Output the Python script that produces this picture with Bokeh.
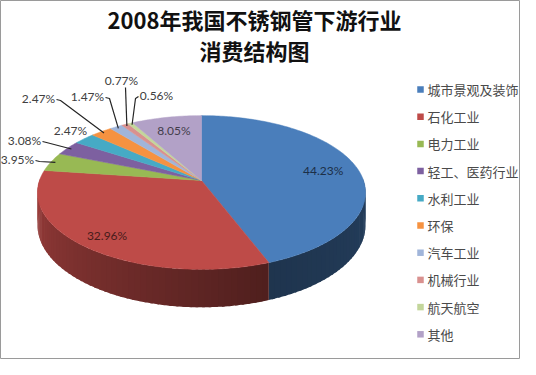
import math
from bokeh.plotting import figure
from bokeh.models import Range1d
from bokeh.core.properties import value
from bokeh.embed import file_html
from bokeh.resources import INLINE

# ---------------- data ----------------
title_lines = ["2008年我国不锈钢管下游行业", "消费结构图"]
categories = ["城市景观及装饰", "石化工业", "电力工业", "轻工、医药行业", "水利工业",
              "环保", "汽车工业", "机械行业", "航天航空", "其他"]
shares = [44.23, 32.96, 3.95, 3.08, 2.47, 2.47, 1.47, 0.77, 0.56, 8.05]
colors = ["#4A7EBB", "#BE4B48", "#98B954", "#7D60A0", "#46AAC5",
          "#F69240", "#A0B5DA", "#D9918F", "#C3D69B", "#B2A1C7"]

# ---------------- layout ----------------
CX, CY = 209.0, 188.0      # projected pie centre (page px)
A, B, K = 162.0, 75.0, 0.156
D0 = 32.0                  # side depth
FONT_CJK = "Noto Sans CJK SC"
FONT_NUM = "Lato"

# outside label anchors (page px) and leader side, for small slices (index -> layout)
outside = {2: (25, 167, "r"), 3: (32, 148, "r"), 4: (78, 138, None), 5: (46, 106, "r"),
           6: (95, 104, "r"), 7: (129, 88, "b"), 8: (164, 103, "l")}
inside_r = {0: 0.78, 1: 0.84, 9: 0.76}


def proj(theta, r=1.0, drop=0.0):
    t = math.radians(theta)
    X, Z = r * math.sin(t), -r * math.cos(t)
    m = 1.0 / (1.0 - K * Z)
    return CX + A * X * m, CY + B * Z * m + drop * m


def shade(hexc, f):
    r, g, b = (int(hexc[i:i + 2], 16) for i in (1, 3, 5))
    return "#%02x%02x%02x" % (int(r * f), int(g * f), int(b * f))


def side_factor(th):
    if th >= 160:
        return 0.42 + 0.40 * min(th - 160, 110) / 110
    return 0.42 + 0.08 * (160 - th) / 70


total = sum(shares)
bounds = [0.0]
for s in shares:
    bounds.append(bounds[-1] + 360.0 * s / total)

p = figure(width=520, height=359, x_range=Range1d(8, 528), y_range=Range1d(367, 8),
           output_backend="svg", toolbar_location=None, x_axis_type=None, y_axis_type=None,
           min_border=0, outline_line_color="#9a9a9a", outline_line_width=1,
           background_fill_color="white", border_fill_color="white")
p.min_border_left = p.min_border_right = p.min_border_top = p.min_border_bottom = 0
p.grid.visible = False

# ---- side walls (small overlapping strips for a shaded look) ----
sx, sy, sc = [], [], []
for i in range(len(shares)):
    a0, a1 = max(bounds[i], 88.0), min(bounds[i + 1], 272.0)
    if a1 <= a0:
        continue
    n = max(1, int(math.ceil((a1 - a0) / 2.0)))
    for j in range(n):
        t0 = a0 + (a1 - a0) * j / n
        t1 = min(a0 + (a1 - a0) * (j + 1) / n + 0.8, a1)
        ts = [t0 + (t1 - t0) * k / 3 for k in range(4)]
        top = [proj(t) for t in ts]
        bot = [proj(t, drop=D0) for t in reversed(ts)]
        sx.append([q[0] for q in top + bot])
        sy.append([q[1] for q in top + bot])
        sc.append(shade(colors[i], side_factor((t0 + t1) / 2)))
p.patches(sx, sy, fill_color=sc, line_color=None)

# ---- top faces ----
tx, ty = [], []
for i in range(len(shares)):
    a0, a1 = bounds[i], bounds[i + 1]
    n = max(2, int(math.ceil(a1 - a0)))
    pts = [(CX, CY)] + [proj(a0 + (a1 - a0) * j / n) for j in range(n + 1)]
    tx.append([q[0] for q in pts])
    ty.append([q[1] for q in pts])
p.patches(tx, ty, fill_color=colors, line_color=colors, line_width=0.5)

# ---- data labels ----
lab = [f"{s:.2f}%" for s in shares]
ix, iy, it, icol = [], [], [], []
for i, r in inside_r.items():
    mid = (bounds[i] + bounds[i + 1]) / 2
    x, y = proj(mid, r)
    ix.append(x); iy.append(y); it.append(lab[i]); icol.append(shade(colors[i], 0.38))
p.text(ix, iy, text=it, text_color=icol, text_font=value(FONT_NUM), text_font_size="12px",
       text_align="center", text_baseline="middle")

ox, oy, ot, lx, ly = [], [], [], [], []
HW = 17
for i, (x, y, side) in outside.items():
    ox.append(x); oy.append(y); ot.append(lab[i])
    if side is None:
        continue
    mid = (bounds[i] + bounds[i + 1]) / 2
    ex, ey = proj(mid, 0.97)
    if side == "r":
        pts = [(x + HW + 1, y + 1), (x + HW + 5, y + 2), (ex, ey)]
    elif side == "l":
        pts = [(x - HW - 1, y + 1), (x - HW - 4, y + 3), (ex, ey)]
    else:
        pts = [(x + 4, y + 7), (ex, ey)]
    lx.append([q[0] for q in pts]); ly.append([q[1] for q in pts])
p.multi_line(lx, ly, line_color="#262626", line_width=1.2)
p.text(ox, oy, text=ot, text_color="#404040", text_font=value(FONT_NUM), text_font_size="12px",
       text_align="center", text_baseline="middle")

# ---- title ----
p.text([262, 262], [26, 57.5], text=title_lines, text_color="#111111",
       text_font=value(FONT_CJK), text_font_size="22px", text_font_style="bold",
       text_align="center", text_baseline="middle")

# ---- legend ----
LX, LY0, LDY = 428, 97, 27.2
ly_pos = [LY0 + LDY * k for k in range(len(categories))]
p.rect([LX] * len(categories), ly_pos, width=6.5, height=6.5, fill_color=colors, line_color=None)
p.text([LX + 7] * len(categories), ly_pos, text=categories, text_color="#4a4a4a",
       text_font=value(FONT_CJK), text_font_size="13px", text_align="left", text_baseline="middle")

open("out.html", "w").write(file_html(p, INLINE))
